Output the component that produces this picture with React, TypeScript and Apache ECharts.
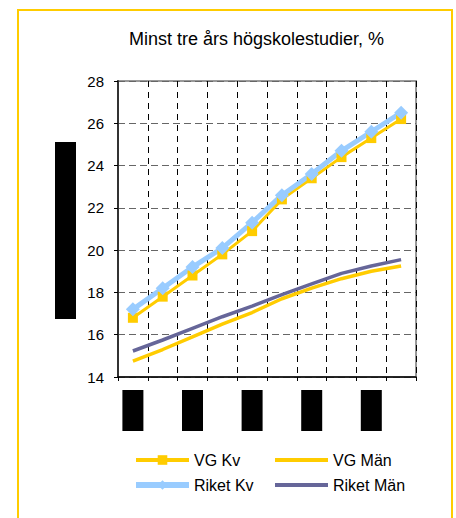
import React, { useEffect, useRef } from 'react';
import * as echarts from 'echarts';

const categories = ['1995', '1996', '1997', '1998', '1999', '2000', '2001', '2002', '2003', '2004'];
const vgKv = [16.8, 17.8, 18.8, 19.8, 20.9, 22.4, 23.4, 24.4, 25.3, 26.2];
const riketKv = [17.2, 18.2, 19.2, 20.1, 21.3, 22.6, 23.6, 24.7, 25.6, 26.5];
const vgMan = [14.75, 15.3, 15.9, 16.5, 17.05, 17.7, 18.2, 18.65, 19.0, 19.25];
const riketMan = [15.23, 15.75, 16.3, 16.85, 17.35, 17.9, 18.4, 18.9, 19.25, 19.55];
const yMin = 14;
const yMax = 28;
const yInterval = 2;
const titleText = 'Minst tre års högskolestudier, %';

const FONT = '"Liberation Sans", Arial, sans-serif';

export default function App() {
  const ref = useRef<HTMLDivElement>(null);
  useEffect(() => {
    if (!ref.current) return;
    const chart = echarts.init(ref.current, undefined, { renderer: 'svg' });
    chart.setOption({
      animation: false,
      backgroundColor: '#fff',
      textStyle: { fontFamily: FONT, color: '#000' },
      title: {
        text: titleText,
        left: 129,
        top: 30,
        padding: 0,
        textStyle: { fontFamily: FONT, fontSize: 18, fontWeight: 'normal', color: '#000' },
      },
      graphic: [
        {
          type: 'rect',
          shape: { x: 18, y: 10, width: 434, height: 520 },
          style: { fill: 'transparent', stroke: '#FFCC00', lineWidth: 2 },
          silent: true,
          z: 0,
        },
        {
          type: 'rect',
          shape: { x: 55, y: 142, width: 21, height: 177 },
          style: { fill: '#000' },
          silent: true,
          z: 10,
        },
      ],
      legend: [
        {
          orient: 'vertical',
          left: 133,
          top: 452,
          itemWidth: 53,
          itemHeight: 12,
          itemGap: 9,
          padding: 0,
          data: [
            { name: 'VG Kv', lineStyle: { width: 4 } },
            { name: 'Riket Kv', lineStyle: { width: 6 } },
          ],
          textStyle: { fontFamily: FONT, fontSize: 16, color: '#000' },
        },
        {
          orient: 'vertical',
          left: 273,
          top: 452,
          itemWidth: 53,
          itemHeight: 12,
          itemGap: 9,
          padding: 0,
          data: [
            { name: 'VG Män', itemStyle: { opacity: 0 }, lineStyle: { width: 4 } },
            { name: 'Riket Män', itemStyle: { opacity: 0 }, lineStyle: { width: 4 } },
          ],
          textStyle: { fontFamily: FONT, fontSize: 16, color: '#000' },
        },
      ],
      grid: {
        left: 118,
        top: 81,
        right: 40,
        bottom: 141,
        show: true,
        borderColor: '#999',
        borderWidth: 2,
        backgroundColor: 'transparent',
      },
      xAxis: {
        type: 'category',
        data: categories,
        boundaryGap: true,
        axisLine: { show: true, lineStyle: { color: '#000', width: 1.5 } },
        axisTick: { show: true, interval: 0, length: 4, lineStyle: { color: '#000' } },
        axisLabel: {
          interval: 1,
          margin: 13,
          formatter: () => '{box| }',
          rich: { box: { width: 21, height: 41, backgroundColor: '#000' } },
        },
        splitLine: {
          show: true,
          interval: 0,
          lineStyle: { color: '#000', type: [6, 5], width: 1 },
        },
      },
      yAxis: {
        type: 'value',
        min: yMin,
        max: yMax,
        interval: yInterval,
        axisLine: { show: true, lineStyle: { color: '#333', width: 2 } },
        axisTick: { show: true, length: 4, lineStyle: { color: '#000' } },
        axisLabel: { fontSize: 15, color: '#000', margin: 14, fontFamily: FONT },
        splitLine: { show: true, lineStyle: { color: '#666', type: [7, 4], width: 1.2 } },
      },
      series: [
        {
          name: 'VG Kv',
          type: 'line',
          data: vgKv,
          symbol: 'rect',
          symbolSize: 10,
          itemStyle: { color: '#FFCC00' },
          lineStyle: { color: '#FFCC00', width: 3 },
        },
        {
          name: 'VG Män',
          type: 'line',
          data: vgMan,
          symbol: 'none',
          itemStyle: { color: '#FFCC00' },
          lineStyle: { color: '#FFCC00', width: 3.5 },
        },
        {
          name: 'Riket Kv',
          type: 'line',
          data: riketKv,
          symbol: 'diamond',
          symbolSize: 14,
          itemStyle: { color: '#99CCFF' },
          lineStyle: { color: '#99CCFF', width: 5 },
        },
        {
          name: 'Riket Män',
          type: 'line',
          data: riketMan,
          symbol: 'none',
          itemStyle: { color: '#666699' },
          lineStyle: { color: '#666699', width: 3.5 },
        },
      ],
    });
    return () => chart.dispose();
  }, []);
  return (
    <div
      ref={ref}
      style={{ position: 'fixed', left: 0, top: 0, width: 456, height: 518 }}
    />
  );
}
